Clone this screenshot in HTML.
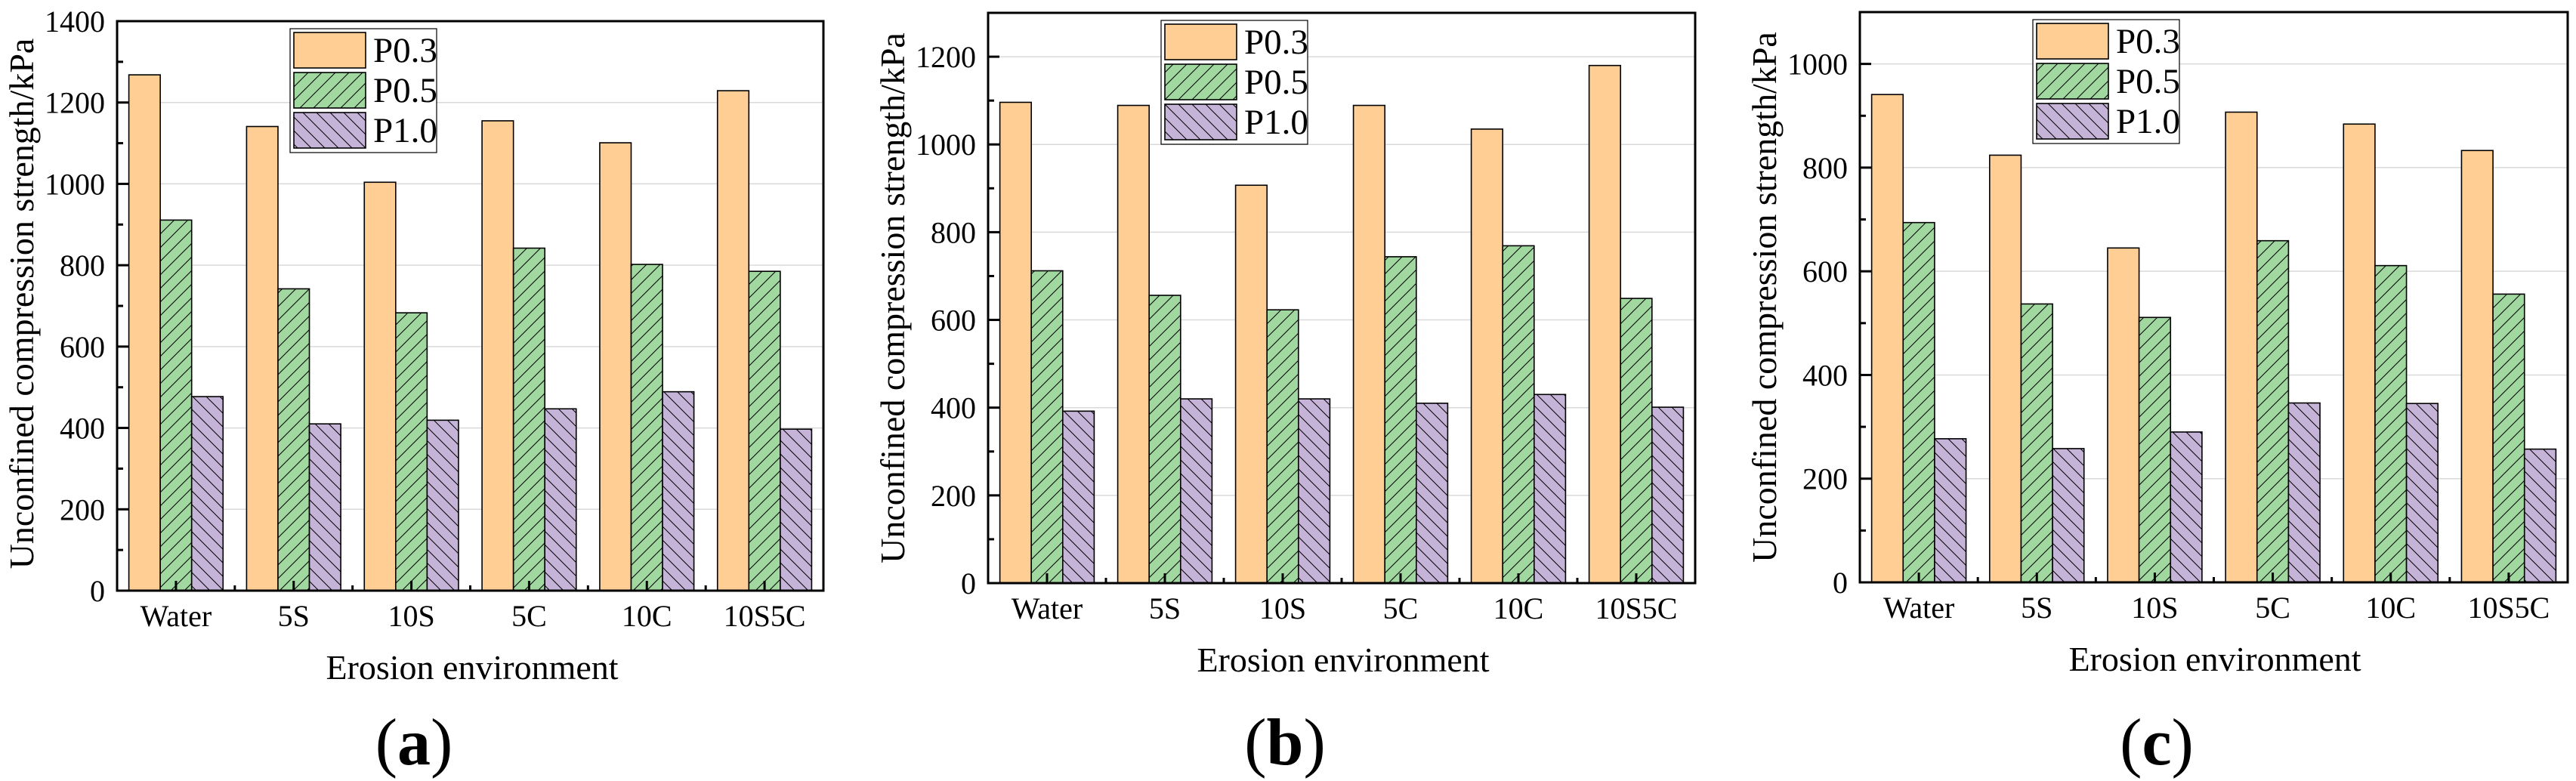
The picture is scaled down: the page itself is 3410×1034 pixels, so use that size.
<!DOCTYPE html>
<html><head><meta charset="utf-8">
<style>
html,body{margin:0;padding:0;background:#fff;}
svg{display:block;}
svg text{font-family:"Liberation Serif","Times New Roman",serif;}
</style></head>
<body>
<svg id="fig" width="3410" height="1034" viewBox="0 0 3410 1034" xmlns="http://www.w3.org/2000/svg" font-family="Liberation Serif, serif">
<defs>
<pattern id="hatchFwd" patternUnits="userSpaceOnUse" width="18" height="18">
<rect width="18" height="18" fill="#a0d8a0"/>
<path d="M-2,20 L20,-2 M-2,2 L2,-2 M16,20 L20,16" stroke="#000" stroke-width="1"/>
</pattern>
<pattern id="hatchBack" patternUnits="userSpaceOnUse" width="18" height="18">
<rect width="18" height="18" fill="#c6b4d8"/>
<path d="M-2,-2 L20,20 M16,-2 L20,2 M-2,16 L2,20" stroke="#000" stroke-width="1"/>
</pattern>
</defs>
</svg>
<script>
const categories = ["Water","5S","10S","5C","10C","10S5C"];
const seriesNames = ["P0.3","P0.5","P1.0"];
const panelA_P03 = [1268,1141,1004,1155,1101,1229];
const panelA_P05 = [911,742,683,842,802,785];
const panelA_P10 = [477,410,419,447,489,397];
const panelB_P03 = [1096,1089,907,1089,1035,1180];
const panelB_P05 = [712,656,623,744,769,649];
const panelB_P10 = [392,420,420,410,430,401];
const panelC_P03 = [941,824,645,907,884,833];
const panelC_P05 = [694,537,511,659,611,556];
const panelC_P10 = [277,258,290,346,345,257];
const panelA_ticks = [0,200,400,600,800,1000,1200,1400];
const panelB_ticks = [0,200,400,600,800,1000,1200];
const panelC_ticks = [0,200,400,600,800,1000];
const panelA_max = 1400, panelB_max = 1300, panelC_max = 1100;
const captions = ["a","b","c"];

const NS = "http://www.w3.org/2000/svg";
const svg = document.getElementById("fig");
const fills = ["#ffce94","url(#hatchFwd)","url(#hatchBack)"];
const FF = '"Liberation Serif", serif';
function mk(tag, attrs, parent){
  const e = document.createElementNS(NS, tag);
  for (const k in attrs) e.setAttribute(k, attrs[k]);
  if (tag === "text") e.style.fontFamily = FF;
  (parent||svg).appendChild(e);
  return e;
}
const panels = [
  {L:155,R:1090,T:28,B:782,max:panelA_max,ticks:panelA_ticks,series:[panelA_P03,panelA_P05,panelA_P10],cap:captions[0]},
  {L:1308,R:2244,T:17,B:772,max:panelB_max,ticks:panelB_ticks,series:[panelB_P03,panelB_P05,panelB_P10],cap:captions[1]},
  {L:2462,R:3399,T:16,B:771,max:panelC_max,ticks:panelC_ticks,series:[panelC_P03,panelC_P05,panelC_P10],cap:captions[2]}
];
panels.forEach((p,pi)=>{
  const g = mk("g",{});
  
  
  const y = v => p.B - (v/p.max)*(p.B-p.T);
  const cw = (p.R-p.L)/categories.length;
  const x = i => p.L + i*cw;
  p.ticks.forEach(t=>{
    if (t===0) return;
    const l = mk("line",{x1:p.L,x2:p.R,y1:y(t),y2:y(t),stroke:"#d9d9d9","stroke-width":1.5},g);
    
    
  });
  p.series.forEach((vals,si)=>{
    vals.forEach((v,ci)=>{
      const bw = cw*0.2667;
      const r = mk("rect",{x:x(ci)+cw*0.1+si*bw,y:y(v),width:bw,height:p.B-y(v),fill:fills[si],stroke:"#000","stroke-width":1.6},g);
      
      
    });
  });
  for (let v=0; v<=p.max; v+=100){
    const major = p.ticks.includes(v);
    mk("line",{x1:p.L,x2:p.L+(major?15:8),y1:y(v),y2:y(v),stroke:"#000","stroke-width":3},g);
  }
  p.ticks.forEach(t=>{
    const tx = mk("text",{x:p.L-16,y:y(t)+14,"font-size":40,"text-anchor":"end"},g);
    tx.textContent = t;
    
    
  });
  categories.forEach((c,ci)=>{
    const cx = x(ci)+cw/2;
    mk("line",{x1:cx,x2:cx,y1:p.B,y2:p.B-13,stroke:"#000","stroke-width":3},g);
    if (ci>0) mk("line",{x1:x(ci),x2:x(ci),y1:p.B,y2:p.B-7,stroke:"#000","stroke-width":3},g);
    const tx = mk("text",{x:cx,y:p.B+47,"font-size":40,"text-anchor":"middle"},g);
    tx.textContent = c;
    
    
  });
  const fr = mk("rect",{x:p.L,y:p.T,width:p.R-p.L,height:p.B-p.T,fill:"none",stroke:"#000","stroke-width":3},g);
  
  
  const yt = mk("text",{x:0,y:0,"font-size":46,"text-anchor":"middle",transform:`translate(${p.L-111},${(p.T+p.B)/2+(pi===0?-3:0)}) rotate(-90)`},g);
  yt.textContent = "Unconfined compression strength/kPa";
  
  
  const xt = mk("text",{x:p.L+470,y:p.B+117,"font-size":46,"text-anchor":"middle"},g);
  xt.textContent = "Erosion environment";
  
  
  const cp = mk("text",{x:p.L+393,y:1012,"font-size":88,"text-anchor":"middle"},g);
  cp.innerHTML = '(<tspan font-weight="bold">'+p.cap+'</tspan>)';
  
  
  const lg = mk("g",{},g);
  
  
  const lx = p.L+229, ly = p.T+10;
  mk("rect",{x:lx,y:ly,width:194,height:164,fill:"#fff",stroke:"#000","stroke-width":1.2},lg);
  seriesNames.forEach((n,si)=>{
    const ry = ly+5+si*53;
    const sw = mk("rect",{x:lx+5,y:ry,width:95,height:47,fill:fills[si],stroke:"#000","stroke-width":1.6},lg);
    
    
    const t = mk("text",{x:lx+110,y:ry+39,"font-size":47},lg);
    t.textContent = n;
    
    
  });
});
</script>
</body></html>
